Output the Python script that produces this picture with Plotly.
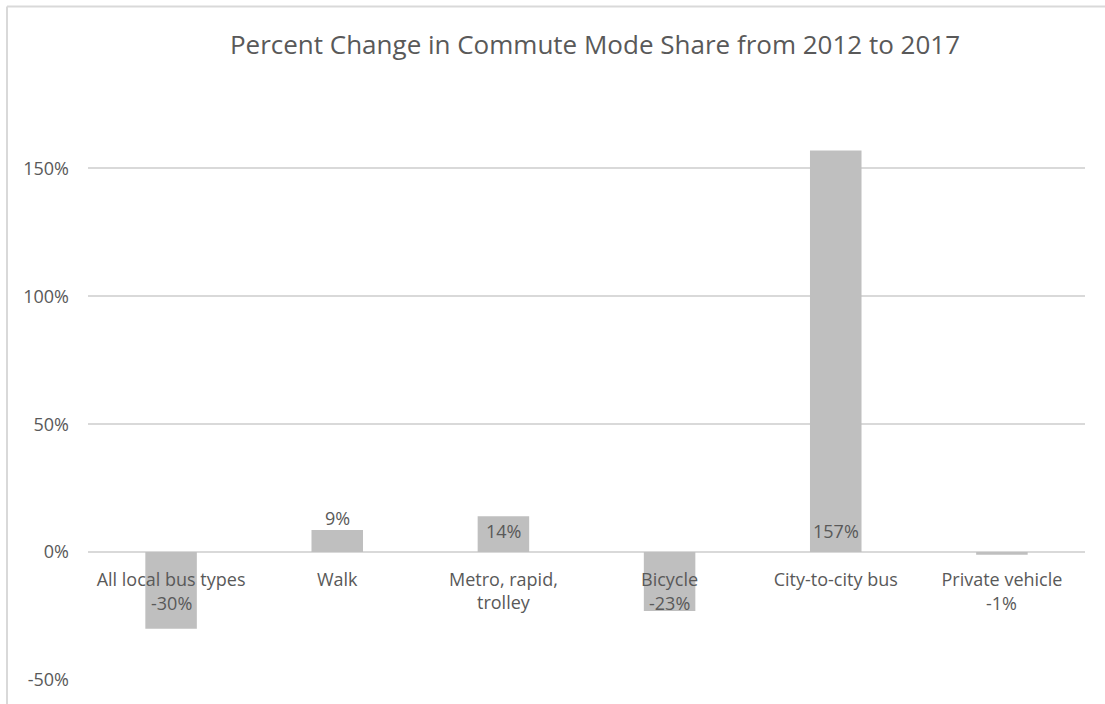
import plotly.graph_objects as go

categories = ["All local bus types", "Walk", "Metro, rapid,<br>trolley", "Bicycle", "City-to-city bus", "Private vehicle"]
values = [-30, 8.6, 14, -23, 157, -1]
y_ticks = [-50, 0, 50, 100, 150]
y_tick_labels = ["-50%", "0%", "50%", "100%", "150%"]

TXT = "#595959"
GRID = "#D9D9D9"
BAR = "#BFBFBF"
FONT = "Open Sans"
FS = 18

Y_MIN, Y_MAX = -50, 165
PLOT_H = 680 - (552 - Y_MAX * 128 / 50)
TOP = 704 - 24 - PLOT_H

fig = go.Figure()
fig.add_trace(go.Bar(x=categories, y=values, marker=dict(color=BAR, line=dict(width=0)),
                     width=0.31, hoverinfo="skip"))

# data labels
px_per_unit = 128 / 50
for c, v in zip(categories, values):
    txt = f"{round(v):d}%"
    if v >= 0:
        if v * px_per_unit < 24:
            fig.add_annotation(x=c, y=v, text=txt, showarrow=False, yanchor="bottom",
                               yshift=-2, font=dict(size=FS, color=TXT, family=FONT))
        else:
            fig.add_annotation(x=c, y=0, text=txt, showarrow=False, yanchor="middle",
                               yshift=21, font=dict(size=FS, color=TXT, family=FONT))
    else:
        fig.add_annotation(x=c, y=0, text=txt, showarrow=False, yanchor="middle",
                           yshift=-51, font=dict(size=FS, color=TXT, family=FONT))

# chart border (light grey, partly cropped)
fy = 1 + (TOP - 6) / PLOT_H
fx = -81 / 997
fig.add_shape(type="line", xref="paper", yref="paper", x0=fx, x1=1.1, y0=fy, y1=fy,
              line=dict(color=GRID, width=2))
fig.add_shape(type="line", xref="paper", yref="paper", x0=fx, x1=fx, y0=-0.2, y1=fy,
              line=dict(color=GRID, width=2))

fig.update_layout(
    width=1105, height=704,
    margin=dict(l=88, r=20, t=TOP, b=24),
    paper_bgcolor="white", plot_bgcolor="white",
    showlegend=False,
    title=dict(text="Percent Change in Commute Mode Share from 2012 to 2017",
               x=595 / 1105, xanchor="center", y=1 - 45 / 704, yanchor="middle",
               font=dict(size=26, color=TXT, family=FONT)),
    xaxis=dict(anchor="free", position=128 / PLOT_H, showline=False, showgrid=False, zeroline=False,
               ticks="", tickfont=dict(size=FS, color=TXT, family=FONT), ticklabelstandoff=15),
    yaxis=dict(range=[Y_MIN, Y_MAX], tickvals=y_ticks, ticktext=y_tick_labels,
               showgrid=True, gridcolor=GRID, gridwidth=1.5, zeroline=True, zerolinecolor=GRID,
               zerolinewidth=1.5, showline=False, ticks="", ticklabelstandoff=18,
               tickfont=dict(size=FS, color=TXT, family=FONT)),
)

fig.write_html("out.html")
